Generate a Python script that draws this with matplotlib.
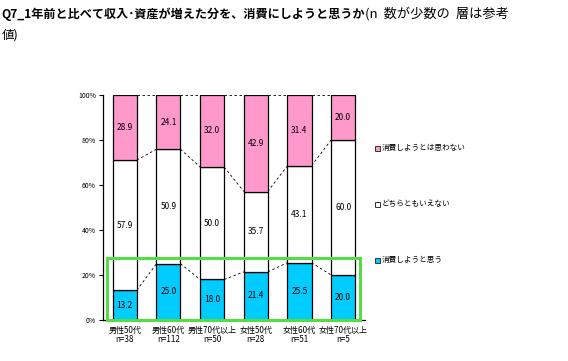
import numpy as np
import matplotlib.pyplot as plt
from matplotlib.patches import Rectangle

plt.rcParams['font.family'] = ['Noto Sans CJK JP', 'DejaVu Sans']

##------------------------------DATA-----------------------##
categories = ['男性50代\nn=38', '男性60代\nn=112', '男性70代以上\nn=50',
              '女性50代\nn=28', '女性60代\nn=51', '女性70代以上\nn=5']
yes_vals = [13.2, 25.0, 18.0, 21.4, 25.5, 20.0]      # 消費しようと思う
neutral_vals = [57.9, 50.9, 50.0, 35.7, 43.1, 60.0]  # どちらともいえない
no_vals = [28.9, 24.1, 32.0, 42.9, 31.4, 20.0]       # 消費しようとは思わない
series_names = ['消費しようと思う', 'どちらともいえない', '消費しようとは思わない']
yticks = [0, 20, 40, 60, 80, 100]

colours = ['#00CCFF', '#FFFFFF', '#FF99CC']

##------------------------------FIGURE-----------------------##
fig = plt.figure(figsize=(5.68, 3.61), dpi=100)
ax = fig.add_axes([0.1813, 0.1136, 0.4613, 0.6233])

x = np.arange(len(categories))
w = 0.55
vals = [np.array(yes_vals), np.array(neutral_vals), np.array(no_vals)]
bottom = np.zeros(len(categories))
for v, c in zip(vals, colours):
    ax.bar(x, v, w, bottom=bottom, color=c, edgecolor='black', linewidth=0.9, zorder=2)
    for xi, b, vi in zip(x, bottom, v):
        ax.text(xi, b + vi / 2, f'{vi:.1f}', ha='center', va='center', fontsize=6, zorder=4)
    top = bottom + v
    # series lines between bars
    for i in range(len(x) - 1):
        ax.plot([x[i] + w / 2, x[i + 1] - w / 2], [top[i], top[i + 1]],
                ls=(0, (3, 3)), color='black', lw=0.6, zorder=1)
    bottom = top

# green highlight box
ax.add_patch(Rectangle((-0.41, 0), 5.8, 27.6, fill=False, edgecolor='#55DD44',
                       lw=2.2, zorder=5, clip_on=False))

ax.set_xlim(-0.5, 5.5)
ax.set_ylim(0, 100)
ax.set_yticks(yticks)
ax.set_yticklabels([f'{t}%' for t in yticks], fontsize=5)
ax.set_xticks(x)
ax.set_xticklabels(categories, fontsize=5.8, linespacing=1.0)
ax.tick_params(axis='x', length=0, pad=4)
ax.tick_params(axis='y', length=3, width=0.8, pad=2)
for s in ['top', 'right']:
    ax.spines[s].set_visible(False)
for s in ['left', 'bottom']:
    ax.spines[s].set_linewidth(0.9)

# legend (markers + labels)
leg_y = [148, 204, 260]
for name, c, yy in zip(series_names[::-1], colours[::-1], leg_y):
    fy = 1 - yy / 361
    fig.patches.append(Rectangle((375 / 568, fy - 2.5 / 361), 5 / 568, 5 / 361,
                                 transform=fig.transFigure, facecolor=c,
                                 edgecolor='#333333', lw=0.7))
    fig.text(382 / 568, fy, name, fontsize=5.5, va='center', ha='left')

# title
t1 = fig.text(0.003, 1 - 18 / 361, 'Q7_1年前と比べて収入･資産が増えた分を、消費にしようと思うか',
              fontsize=8.7, fontweight='bold', va='baseline', ha='left')
fig.text(0.003, 1 - 39 / 361, '値)', fontsize=9, va='baseline', ha='left')
ax.annotate('(n  数が少数の  層は参考', xy=(1, 0), xycoords=t1, fontsize=9.5,
            va='bottom', ha='left', annotation_clip=False)

plt.savefig('out.png', dpi=100)
